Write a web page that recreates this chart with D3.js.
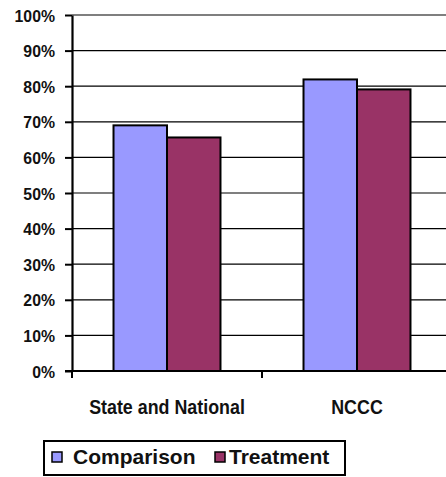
<!DOCTYPE html>
<html>
<head>
<meta charset="utf-8">
<script src="https://cdn.jsdelivr.net/npm/d3@7"></script>
<style>
  html, body { margin: 0; padding: 0; background: #fff; }
  svg { display: block; }
</style>
</head>
<body>
<svg id="chart" width="446" height="477"></svg>
<script>
// Chart data
const categories = ["State and National", "NCCC"];
const seriesNames = ["Comparison", "Treatment"];
const comparison = [69.0, 81.9];
const treatment = [65.6, 79.1];
const yTicks = [0, 10, 20, 30, 40, 50, 60, 70, 80, 90, 100];
const seriesColors = ["#9999FF", "#993366"];

const svg = d3.select("#chart");
const margin = { left: 72, top: 15, right: 452, bottom: 371 };

const y = d3.scaleLinear().domain([0, 100]).range([margin.bottom, margin.top]);
const x0 = d3.scaleBand().domain(categories)
  .range([margin.left, margin.right])
  .paddingInner(0.437).paddingOuter(0.2185);
const x1 = d3.scaleBand().domain(seriesNames).range([0, x0.bandwidth()]);

// Condense a text element horizontally (narrow-face look)
function condense(sel, factor) {
  sel.each(function () {
    const w = this.getComputedTextLength();
    d3.select(this).attr("textLength", w * factor).attr("lengthAdjust", "spacingAndGlyphs");
  });
}

// Horizontal gridlines
svg.append("g").selectAll("line").data(yTicks.filter(d => d > 0)).join("line")
  .attr("x1", margin.left).attr("x2", margin.right)
  .attr("y1", d => y(d)).attr("y2", d => y(d))
  .attr("stroke", "#000").attr("stroke-width", 1.2);

// Bars
const rows = categories.map((c, i) => ({ cat: c, vals: [comparison[i], treatment[i]] }));
const groups = svg.append("g").selectAll("g").data(rows).join("g")
  .attr("transform", d => `translate(${x0(d.cat)},0)`);
groups.selectAll("rect").data(d => d.vals.map((v, j) => ({ s: seriesNames[j], v, j })))
  .join("rect")
  .attr("x", d => x1(d.s))
  .attr("width", x1.bandwidth())
  .attr("y", d => y(d.v))
  .attr("height", d => y(0) - y(d.v))
  .attr("fill", d => seriesColors[d.j])
  .attr("stroke", "#000").attr("stroke-width", 2);

// Y axis
const yAxis = svg.append("g").attr("transform", `translate(${margin.left},0)`)
  .call(d3.axisLeft(y).tickValues(yTicks).tickFormat(d => d + "%").tickSize(7).tickSizeOuter(0));
yAxis.select(".domain").attr("stroke-width", 2.2);
yAxis.selectAll(".tick line").attr("stroke-width", 2);
yAxis.selectAll(".tick text")
  .attr("x", -17)
  .attr("dy", "0.36em")
  .style("font-family", "'Liberation Sans', Arial, sans-serif")
  .style("font-weight", "bold")
  .style("font-size", "17px")
  .attr("fill", "#111")
  .call(condense, 0.93);

// X axis baseline with category boundary ticks
const xg = svg.append("g");
xg.append("line")
  .attr("x1", margin.left - 7).attr("x2", margin.right)
  .attr("y1", y(0)).attr("y2", y(0))
  .attr("stroke", "#000").attr("stroke-width", 2.2);
const boundaries = categories.map(c => x0(c) - x0.step() * x0.paddingInner() / 2)
  .concat([margin.right]);
xg.selectAll("line.bt").data(boundaries).join("line").attr("class", "bt")
  .attr("x1", d => d).attr("x2", d => d)
  .attr("y1", y(0)).attr("y2", y(0) + 7)
  .attr("stroke", "#000").attr("stroke-width", 2);
xg.selectAll("text").data(categories).join("text")
  .attr("x", d => x0(d) + x0.bandwidth() / 2)
  .attr("y", 414)
  .attr("text-anchor", "middle")
  .style("font-family", "'Liberation Sans', Arial, sans-serif")
  .style("font-weight", "bold")
  .style("font-size", "21px")
  .attr("fill", "#111")
  .text(d => d)
  .call(condense, 0.85);

// Legend
const legend = svg.append("g");
legend.append("rect")
  .attr("x", 44).attr("y", 441).attr("width", 301).attr("height", 34)
  .attr("fill", "#fff").attr("stroke", "#000").attr("stroke-width", 2);
const legendItems = [
  { name: seriesNames[0], color: seriesColors[0], sx: 52, tx: 73 },
  { name: seriesNames[1], color: seriesColors[1], sx: 215, tx: 229 }
];
legend.selectAll("rect.sw").data(legendItems).join("rect").attr("class", "sw")
  .attr("x", d => d.sx).attr("y", 452).attr("width", 10).attr("height", 10)
  .attr("fill", d => d.color).attr("stroke", "#000").attr("stroke-width", 1.5);
legend.selectAll("text").data(legendItems).join("text")
  .attr("x", d => d.tx).attr("y", 464)
  .style("font-family", "'Liberation Sans', Arial, sans-serif")
  .style("font-weight", "bold")
  .style("font-size", "21px")
  .attr("fill", "#111")
  .text(d => d.name);
</script>
</body>
</html>
